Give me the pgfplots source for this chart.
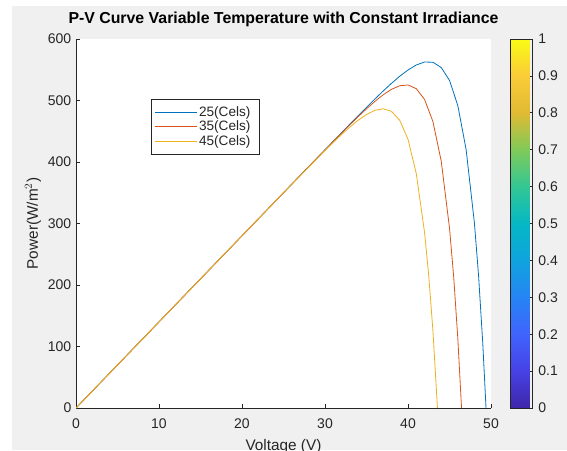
\documentclass[border=0pt]{standalone}
\usepackage{fontspec}
\setmainfont{Liberation Sans}
\usepackage{pgfplots}
\pgfplotsset{compat=1.18}
\definecolor{bgray}{HTML}{F0F0F0}
\definecolor{mblue}{rgb}{0,0.447,0.741}
\definecolor{mred}{rgb}{0.85,0.325,0.098}
\definecolor{myel}{rgb}{0.929,0.694,0.125}
\definecolor{tgray}{HTML}{262626}
\begin{document}
\begin{tikzpicture}
\clip (0,0) rectangle (425.25pt,337.5pt);
\fill[white] (0,0) rectangle (425.25pt,337.5pt);
\fill[bgray] (9pt,0) rectangle (425.25pt,333pt);
\begin{axis}[
  at={(57pt,31.5pt)}, anchor=south west,
  scale only axis, width=311.25pt, height=276.75pt,
  axis background/.style={fill=white},
  xmin=0, xmax=50, ymin=0, ymax=600,
  axis lines*=left,
  axis line style={tgray, line width=0.5pt},
  xtick={0,10,20,30,40,50}, ytick={0,100,200,300,400,500,600},
  tick align=inside, major tick length=3pt,
  tick style={tgray, line width=0.5pt},
  /pgf/number format/assume math mode=true,
  tick label style={font=\fontsize{10.5}{12}\selectfont, text=tgray},
  xticklabel style={anchor=base, yshift=-15pt},
  xlabel={Voltage (V)}, ylabel={Power(W/m$^2$)},
  label style={font=\fontsize{11.5}{13}\selectfont, text=tgray},
  xlabel style={at={(axis description cs:0.5,-0.1165)}, anchor=base, inner sep=0pt},
  ylabel style={at={(axis description cs:-0.1036,0.5)}, anchor=center, inner sep=0pt},
  title={\textbf{P-V Curve Variable Temperature with Constant Irradiance}},
  every axis title shift/.style={yshift=0pt},
  title style={font=\fontsize{11.9}{13}\selectfont, at={(axis description cs:0.5,1.019)}, anchor=base, inner sep=0pt},
  colorbar,
  colormap={parula}{rgb=(0.2422,0.1504,0.6603) rgb=(0.278,0.256,0.900) rgb=(0.250,0.390,0.990) rgb=(0.150,0.520,0.960) rgb=(0.060,0.640,0.870) rgb=(0.020,0.720,0.770) rgb=(0.200,0.780,0.580) rgb=(0.500,0.790,0.350) rgb=(0.880,0.730,0.200) rgb=(0.980,0.800,0.220) rgb=(0.9769,0.9839,0.0805)},
  point meta min=0, point meta max=1,
  colorbar style={
    at={(parent axis.north east)}, anchor=north west, xshift=6pt,
    width=16.5pt,
    ytick={0,0.1,0.2,0.3,0.4,0.5,0.6,0.7,0.8,0.9,1},
    yticklabels={0,0.1,0.2,0.3,0.4,0.5,0.6,0.7,0.8,0.9,1},
    ytick pos=right, yticklabel pos=right,
    tick align=inside, major tick length=2pt,
    tick style={tgray, line width=0.5pt},
    axis line style={tgray, line width=0.5pt},
    yticklabel style={font=\fontsize{10.5}{12}\selectfont, text=tgray, xshift=1pt},
  },
  legend style={at={(axis description cs:0.1807,0.8374)}, anchor=north west,
    draw=tgray, line width=0.5pt, fill=white, inner xsep=2.2pt, inner ysep=4.2pt,
    font=\fontsize{10.2}{12}\selectfont, text=tgray,
    nodes={inner sep=1pt}},
  legend cell align=left,
  legend image code/.code={\draw[#1] (0pt,0pt) -- (32pt,0pt);},
  every axis plot/.append style={line width=0.6pt},
]
\addplot[mblue] coordinates {(0,0)(10,140)(20,280)(25,350)(30,419.9)(31,433.8)(32,447.7)(33,461.6)(34,475.3)(35,488.9)(36,502.3)(37,515.3)(38,527.8)(39,539.4)(40,549.6)(41,557.8)(42,562.6)(43,562.2)(44,553.7)(45,532.7)(46,491.9)(47,420.5)(48,301.0)(48.5,215.6)(49,107.2)(49.4,0)};
\addlegendentry{\makebox[42pt][l]{25(Cels)}}
\addplot[mred] coordinates {(0,0)(10,140)(20,280)(25,350)(30,419.7)(31,433.4)(32,447.1)(33,460.6)(34,473.8)(35,486.5)(36,498.4)(37,509.2)(38,518.1)(39,524.0)(40,525.3)(41,519.2)(42,501.6)(43,465.9)(44,401.7)(45,292.8)(45.5,214.0)(46,113.5)(46.45,0)};
\addlegendentry{\makebox[42pt][l]{35(Cels)}}
\addplot[myel] coordinates {(0,0)(10,140)(20,280)(25,350)(30,418.7)(31,432.0)(32,444.8)(33,456.9)(34,468.0)(35,477.3)(36,484.0)(37,486.5)(38,482.4)(39,467.9)(40,437.1)(41,381.0)(42,284.8)(42.5,215.1)(43,126.1)(43.55,0)};
\addlegendentry{\makebox[42pt][l]{45(Cels)}}
\end{axis}
\end{tikzpicture}
\end{document}
